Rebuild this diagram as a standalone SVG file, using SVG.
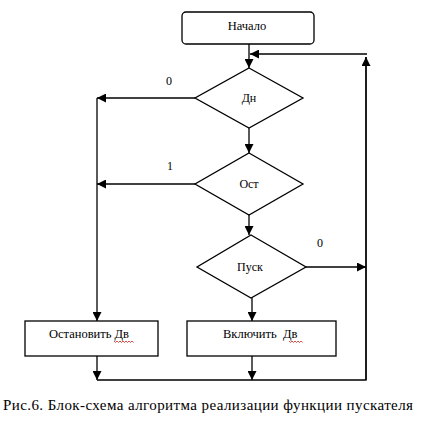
<svg xmlns="http://www.w3.org/2000/svg" width="422" height="423" viewBox="0 0 422 423">
<style>
.s{fill:#fff;stroke:#000;stroke-width:1.3}
.c{fill:none;stroke:#000;stroke-width:1.3}
.m{text-anchor:middle}
.sp{fill:none;stroke:#d02020;stroke-width:0.8}
</style>
<defs>
<marker id="a" viewBox="0 0 10 10" refX="10" refY="5" markerWidth="9" markerHeight="9" markerUnits="userSpaceOnUse" orient="auto">
<path d="M0,0 L10,5 L0,10 z" fill="#000"/>
</marker>
</defs>
<rect width="422" height="423" fill="#fff"/>
<g id="connectors">
<line class="c" x1="249" y1="44" x2="249" y2="68" marker-end="url(#a)"/>
<line class="c" x1="367" y1="54" x2="250" y2="54" marker-end="url(#a)"/>
<line class="c" x1="195" y1="98" x2="97" y2="98" marker-end="url(#a)"/>
<line class="c" x1="249" y1="128" x2="249" y2="153" marker-end="url(#a)"/>
<line class="c" x1="195" y1="184" x2="97" y2="184" marker-end="url(#a)"/>
<line class="c" x1="249" y1="215" x2="249" y2="235" marker-end="url(#a)"/>
<line class="c" x1="306" y1="267" x2="366" y2="267" marker-end="url(#a)"/>
<line class="c" x1="97" y1="98" x2="97" y2="321" marker-end="url(#a)"/>
<line class="c" x1="252" y1="298" x2="252" y2="321" marker-end="url(#a)"/>
<line class="c" x1="97" y1="356" x2="97" y2="380" marker-end="url(#a)"/>
<line class="c" x1="252" y1="356" x2="252" y2="380" marker-end="url(#a)"/>
<polyline class="c" points="97,380 366,380 366,57"/>
<line class="c" x1="366" y1="380" x2="366" y2="57" marker-end="url(#a)"/>
<text style="font-family:'Liberation Serif';font-size:12px" x="166" y="85">0</text>
<text style="font-family:'Liberation Serif';font-size:12px" x="167" y="170">1</text>
<text style="font-family:'Liberation Serif';font-size:12px" x="317" y="247">0</text>
</g>
<g id="start">
<rect class="s" x="182" y="12" width="132" height="32" rx="4"/>
<text class="m" style="font-family:'Liberation Serif';font-size:12.5px" x="247" y="30">Начало</text>
</g>
<g id="dn">
<polygon class="s" points="249,68 303,98 249,128 195,98"/>
<text class="m" style="font-family:'Liberation Serif';font-size:12px" x="249" y="102">Дн</text>
</g>
<g id="ost">
<polygon class="s" points="249,153 303,184 249,215 195,184"/>
<text class="m" style="font-family:'Liberation Serif';font-size:12px" x="249" y="188">Ост</text>
</g>
<g id="pusk">
<polygon class="s" points="251,235 306,267 251,298 197,267"/>
<text class="m" style="font-family:'Liberation Serif';font-size:12px" x="250" y="271">Пуск</text>
</g>
<g id="stop">
<rect class="s" x="25" y="321" width="133" height="35"/>
<text style="font-family:'Liberation Serif';font-size:12.5px" x="49" y="338">Остановить Дв</text>
<path class="sp" d="M114,341 l1.5,1.5 l1.5,-1.5 l1.5,1.5 l1.5,-1.5 l1.5,1.5 l1.5,-1.5 l1.5,1.5 l1.5,-1.5 l1.5,1.5 l1.5,-1.5 l1.5,1.5 l1.5,-1.5 l1.5,1.5"/>
</g>
<g id="on">
<rect class="s" x="187" y="321" width="149" height="35"/>
<text style="font-family:'Liberation Serif';font-size:12.5px" x="223" y="338" xml:space="preserve">Включить  Дв</text>
<path class="sp" d="M289,341 l1.5,1.5 l1.5,-1.5 l1.5,1.5 l1.5,-1.5 l1.5,1.5 l1.5,-1.5 l1.5,1.5 l1.5,-1.5 l1.5,1.5"/>
</g>
<text style="font-family:'Liberation Serif';font-size:15px" x="3" y="410" textLength="410">Рис.6. Блок-схема алгоритма реализации функции пускателя</text>
</svg>
